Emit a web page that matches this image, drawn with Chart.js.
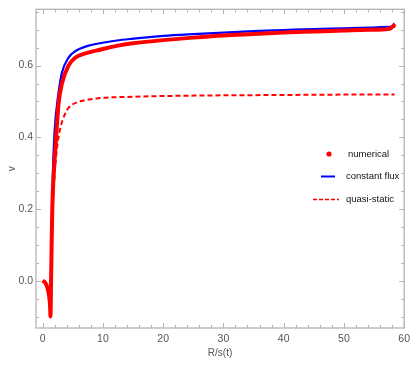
<!DOCTYPE html>
<html>
<head>
<meta charset="utf-8">
<script src="https://cdn.jsdelivr.net/npm/chart.js@4.4.0/dist/chart.umd.min.js"></script>
<style>
html,body{margin:0;padding:0;background:#fff;}
#wrap{width:415px;height:374px;}
</style>
</head>
<body>
<div id="wrap"><canvas id="c" width="415" height="374"></canvas></div>
<script>
// ---- data ----
const numX = [0, 0.4, 0.8, 1.1, 1.25, 1.3, 1.4, 1.6, 1.85, 2.2, 2.65, 3.2, 4.3, 5.4, 7.5, 9.7, 12.3, 15, 20, 25, 30, 35, 40, 45, 50, 54, 57.6, 58.5];
const numV = [0, -0.005, -0.02, -0.045, -0.075, -0.1, 0.0, 0.2, 0.30, 0.39, 0.495, 0.55, 0.60, 0.622, 0.636, 0.645, 0.655, 0.662, 0.671, 0.678, 0.684, 0.688, 0.692, 0.695, 0.698, 0.700, 0.703, 0.716];

const cfX = [1.3, 1.45, 1.7, 2.0, 2.65, 3.2, 4.3, 5.4, 7.5, 9.7, 12.3, 15, 20, 25, 30, 35, 40, 45, 50, 54.2, 57.6, 58.5];
const cfV = [-0.1, 0.1, 0.3, 0.42, 0.525, 0.58, 0.622, 0.64, 0.655, 0.663, 0.67, 0.675, 0.683, 0.688, 0.692, 0.696, 0.699, 0.702, 0.704, 0.706, 0.708, 0.708];

const qsX = [1.3, 1.5, 1.8, 2.1, 2.5, 3.0, 3.8, 4.3, 5, 6.4, 8, 10, 15, 20, 30, 40, 50, 58.4];
const qsV = [-0.1, 0.1, 0.24, 0.32, 0.385, 0.43, 0.468, 0.482, 0.492, 0.501, 0.506, 0.51, 0.513, 0.515, 0.517, 0.518, 0.519, 0.519];

const xTicks = [0, 10, 20, 30, 40, 50, 60];
const yTicks = [0.0, 0.2, 0.4, 0.6];
const seriesNames = ["numerical", "constant flux", "quasi-static"];
const xTitle = "R/s(t)";
const yTitle = "v";

const pts = (xs, ys) => xs.map((x, i) => ({x: x, y: ys[i]}));
const NARROW = '"Liberation Sans Narrow", "Arial Narrow", "Liberation Sans", Arial, sans-serif';

const framePlugin = {
  id: 'frame',
  beforeDatasetsDraw(chart) {
    const {ctx, chartArea: a, scales: {x, y}} = chart;
    ctx.save();
    ctx.strokeStyle = '#b4b4b4';
    ctx.lineWidth = 1.3;
    ctx.strokeRect(a.left, a.top, a.right - a.left, a.bottom - a.top);
    ctx.lineWidth = 1;
    ctx.beginPath();
    for (let v = 0; v <= 60.001; v += 2) {
      const px = Math.round(x.getPixelForValue(v)) + 0.5;
      if (px < a.left || px > a.right + 1) continue;
      const len = (Math.abs(v % 10) < 1e-6) ? 5 : 3;
      ctx.moveTo(px, a.bottom); ctx.lineTo(px, a.bottom - len);
      ctx.moveTo(px, a.top); ctx.lineTo(px, a.top + len);
    }
    for (let k = -2; k <= 15; k++) {
      const v = k * 0.05;
      const py = Math.round(y.getPixelForValue(v)) + 0.5;
      if (py < a.top || py > a.bottom) continue;
      const len = (k % 4 === 0) ? 5 : 3;
      ctx.moveTo(a.left, py); ctx.lineTo(a.left + len, py);
      ctx.moveTo(a.right, py); ctx.lineTo(a.right - len, py);
    }
    ctx.stroke();
    ctx.restore();
  },
  afterDraw(chart) {
    const ctx = chart.ctx;
    ctx.save();
    ctx.font = '9.5px "Liberation Sans", Arial, sans-serif';
    ctx.textBaseline = 'middle';
    ctx.fillStyle = '#ff0000';
    ctx.beginPath(); ctx.arc(329, 154, 2.6, 0, Math.PI * 2); ctx.fill();
    ctx.fillStyle = '#111';
    ctx.fillText(seriesNames[0], 348, 154);
    ctx.strokeStyle = '#0000ff'; ctx.lineWidth = 2;
    ctx.beginPath(); ctx.moveTo(321, 176.5); ctx.lineTo(335, 176.5); ctx.stroke();
    ctx.fillText(seriesNames[1], 346, 176.5);
    ctx.strokeStyle = '#ff0000'; ctx.lineWidth = 1.6; ctx.setLineDash([4, 2]);
    ctx.beginPath(); ctx.moveTo(313, 199.5); ctx.lineTo(339, 199.5); ctx.stroke();
    ctx.setLineDash([]);
    ctx.fillText(seriesNames[2], 346, 199.5);
    ctx.restore();
  }
};

new Chart(document.getElementById('c'), {
  type: 'scatter',
  data: {
    datasets: [
      {label: seriesNames[0], data: pts(numX, numV), showLine: true, borderColor: '#ff0000', borderWidth: 4,
       pointRadius: 0, cubicInterpolationMode: 'monotone', order: 0},
      {label: seriesNames[1], data: pts(cfX, cfV), showLine: true, borderColor: '#0000ff', borderWidth: 2.2,
       pointRadius: 0, cubicInterpolationMode: 'monotone', order: 2},
      {label: seriesNames[2], data: pts(qsX, qsV), showLine: true, borderColor: '#ff0000', borderWidth: 2,
       borderDash: [5, 3], pointRadius: 0, cubicInterpolationMode: 'monotone', order: 1}
    ]
  },
  options: {
    responsive: false,
    animation: false,
    layout: {padding: {top: 5, right: 5, left: 0, bottom: 0}},
    plugins: {legend: {display: false}, tooltip: {enabled: false}},
    scales: {
      x: {
        type: 'linear', min: -1.1, max: 60,
        grid: {display: false, drawTicks: false},
        border: {display: false},
        afterBuildTicks: s => { s.ticks = xTicks.map(v => ({value: v})); },
        afterFit: s => { s.height = 46; },
        ticks: {padding: 5, color: '#555', font: {size: 10.5, family: NARROW},
                maxRotation: 0, callback: v => String(v)},
        title: {display: true, text: xTitle, color: '#555', font: {size: 10, family: NARROW},
                padding: {top: 0, bottom: 15}}
      },
      y: {
        type: 'linear', min: -0.132, max: 0.757,
        grid: {display: false, drawTicks: false},
        border: {display: false},
        afterBuildTicks: s => { s.ticks = yTicks.map(v => ({value: v})); },
        afterFit: s => { s.width = 36; },
        ticks: {padding: 3, color: '#555', font: {size: 10.5, family: NARROW},
                callback: v => Number(v).toFixed(1)},
        title: {display: true, text: yTitle, color: '#555', font: {size: 10, family: NARROW},
                padding: {top: 6, bottom: 0}}
      }
    }
  },
  plugins: [framePlugin]
});
</script>
</body>
</html>
